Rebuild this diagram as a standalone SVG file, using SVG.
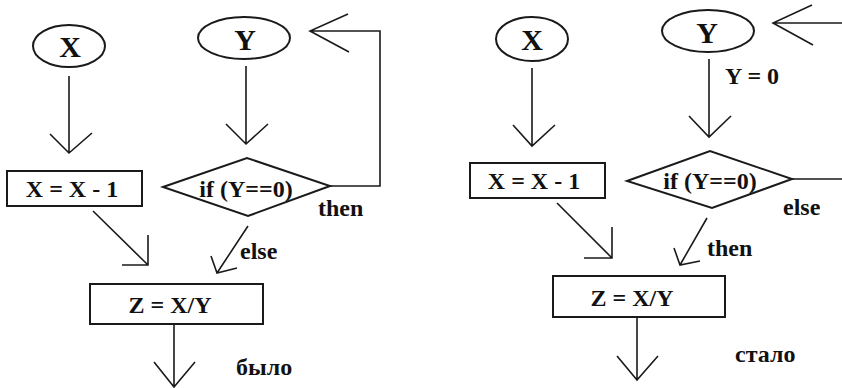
<svg xmlns="http://www.w3.org/2000/svg" width="842" height="388" viewBox="0 0 842 388">
<style>
.s{fill:none;stroke:#1a1a1a;stroke-width:1.6}
.n{fill:#fff;stroke:#1a1a1a;stroke-width:2}
text{font-family:'Liberation Serif', 'Times New Roman', Times, serif;font-weight:700;font-size:24px;fill:#111}
.b{font-size:30px}
.m{text-anchor:middle}
</style>
<rect width="842" height="388" fill="#fff"/>
<g id="connectors">
<path class="s" d="M69,76V153M50,134L69,153L92,133"/>
<path class="s" d="M246,66V144M226,124L246,144L268,124"/>
<path class="s" d="M330,186H380V31H310M348,14L310,31L349,52"/>
<path class="s" d="M93,211L148,265M148,235V265H122"/>
<path class="s" d="M248,226L217,273M211,256L217,273L237,268"/>
<path class="s" d="M174,324V387M154,362L174,387L195,362"/>
<path class="s" d="M532,68V146M513,125L532,146L555,125"/>
<path class="s" d="M709,59V137M689,116L709,137L731,116"/>
<path class="s" d="M792,179H843M843,23H773M812,5L773,23L813,45"/>
<path class="s" d="M557,203L612,258M612,227V258H584"/>
<path class="s" d="M707,218L680,265M674,248L680,265L700,261"/>
<path class="s" d="M637,317V380M617,356L637,380L658,356"/>
</g>
<g id="L_X"><ellipse class="n" cx="69" cy="46" rx="36" ry="21"/><text class="b m" x="70" y="57">X</text></g>
<g id="L_Y"><ellipse class="n" cx="244" cy="38" rx="46" ry="21"/><text class="b m" x="245" y="50">Y</text></g>
<g id="L_dec"><rect class="n" x="7" y="171" width="135" height="35"/><text class="m" x="72" y="197">X = X - 1</text></g>
<g id="L_if"><polygon class="n" points="163,187 247,158 330,186 248,216"/><text class="m" x="246" y="197">if (Y==0)</text></g>
<g id="L_z"><rect class="n" x="90" y="284" width="173" height="40"/><text class="m" x="170" y="313">Z = X/Y</text></g>
<text x="318" y="216">then</text>
<text x="240" y="259">else</text>
<text x="236" y="375">было</text>
<g id="R_X"><ellipse class="n" cx="532" cy="39" rx="36" ry="22"/><text class="b m" x="532" y="50">X</text></g>
<g id="R_Y"><ellipse class="n" cx="708" cy="31" rx="46" ry="21"/><text class="b m" x="707" y="43">Y</text></g>
<g id="R_dec"><rect class="n" x="470" y="163" width="135" height="35"/><text class="m" x="534" y="189">X = X - 1</text></g>
<g id="R_if"><polygon class="n" points="627,181 710,151 792,179 712,208"/><text class="m" x="710" y="189">if (Y==0)</text></g>
<g id="R_z"><rect class="n" x="553" y="276" width="172" height="41"/><text class="m" x="632" y="306">Z = X/Y</text></g>
<text x="725" y="84">Y = 0</text>
<text x="783" y="215">else</text>
<text x="707" y="256">then</text>
<text x="735" y="362">стало</text>
</svg>
